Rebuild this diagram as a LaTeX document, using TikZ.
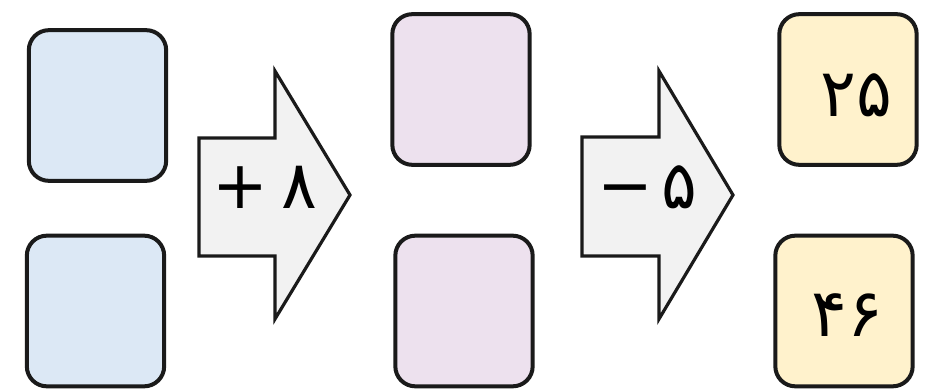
\documentclass[tikz,border=0pt]{standalone}
\usepackage{fontspec}
\newfontfamily\persianfont[Script=Arabic]{DejaVu Sans}
\usetikzlibrary{positioning}

\definecolor{boxblue}{HTML}{DCE8F5}
\definecolor{boxpink}{HTML}{EDE1EE}
\definecolor{boxyellow}{HTML}{FFF2CC}
\definecolor{arrowgray}{HTML}{F2F2F2}
\definecolor{inkline}{HTML}{1A1A1A}

\tikzset{every picture/.style={line width=0.75pt}}
\tikzset{
  numbox/.style={draw=inkline, line width=3pt, rounded corners=15pt, minimum width=103pt, minimum height=113pt, inner sep=0pt},
  bigarrow/.style={draw=inkline, fill=arrowgray, line width=2.4pt, line join=miter},
  numtext/.style={inner sep=0.75pt, font=\persianfont\fontsize{50}{54}\selectfont}
}

\begin{document}
\begin{tikzpicture}[x=0.75pt,y=0.75pt,yscale=-1,xscale=1]
\useasboundingbox (0,0) rectangle (932,389);

%Shape: Rounded Rect [id:inbox top]
\node [numbox, fill=boxblue] (intop) at (97.5,105.5) {};
%Shape: Rounded Rect [id:inbox bottom]
\node [numbox, fill=boxblue] (inbot) at (95.5,311) {};
%Shape: Rounded Rect [id:midbox top]
\node [numbox, fill=boxpink] (midtop) at (461,89.5) {};
%Shape: Rounded Rect [id:midbox bottom]
\node [numbox, fill=boxpink] (midbot) at (464,311) {};
%Shape: Rounded Rect [id:outbox top]
\node [numbox, fill=boxyellow] (outtop) at (848,89.5) {};
%Shape: Rounded Rect [id:outbox bottom]
\node [numbox, fill=boxyellow] (outbot) at (844,311) {};

%Shape: Right Arrow [id:addarrow]
\draw [bigarrow] (199,138) -- (275,138) -- (275,71) -- (350,195) -- (275,319) -- (275,256) -- (199,256) -- cycle ;
%Shape: Right Arrow [id:subarrow]
\draw [bigarrow] (582,137) -- (659,137) -- (659,71) -- (733,195) -- (659,319) -- (659,256) -- (582,256) -- cycle ;

% Text Node
\node [numtext] (addlabel) at (264.5,187) {+\hspace{10pt}۸};
% Text Node
\node [numtext] (sublabel) at (647.5,187) {−\hspace{6pt}۵};
% Text Node
\node [numtext] (outtoplabel) at (856,95) {۲۵};
% Text Node
\node [numtext] (outbotlabel) at (847,315) {۴۶};

\end{tikzpicture}
\end{document}
